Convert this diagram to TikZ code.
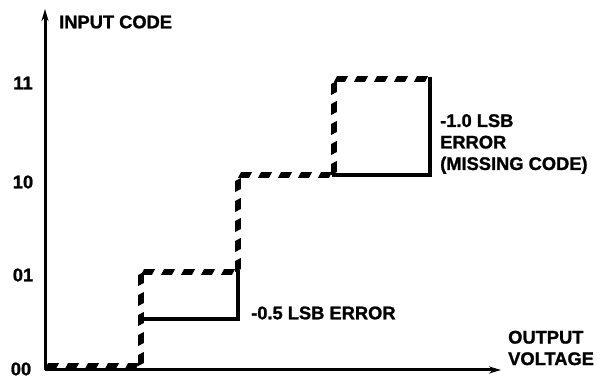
\documentclass[tikz,border=0pt]{standalone}
\usepackage{fontspec}
\setmainfont{Liberation Sans}
\newfontfamily\lbfont{Liberation Sans Bold}[FakeBold=1.3]
\usetikzlibrary{arrows.meta,decorations.markings}
\tikzset{
  lbl/.style={font=\lbfont\fontsize{18.3}{21.5}\selectfont, inner sep=0pt, text=black},
  axis/.style={line width=3pt, -{Stealth[length=12pt,width=7pt]}},
  solidstep/.style={line width=4.8pt, line join=miter, line cap=rect},
  hdash/.style={decoration={markings, mark=between positions 0 and 1 step 20pt with
      {\fill (0,-2.8) -- (11,-2.8) -- (14,2.8) -- (3,2.8) -- cycle;}}, decorate},
  vdash/.style={decoration={markings, mark=between positions 0 and 1 step 20pt with
      {\fill (0,2.8) -- (11,2.8) -- (14,-2.8) -- (3,-2.8) -- cycle;}}, decorate},
}
\begin{document}
\begin{tikzpicture}[x=1pt,y=1pt]
\useasboundingbox (0,0) rectangle (601,379);
% axes
\coordinate (O) at (45,9);
\coordinate (Ytip) at (45,370);
\coordinate (Xtip) at (501,9);
\draw[axis] (O) -- (Ytip);
\draw[axis] (O) -- (Xtip);
% staircase points
\coordinate (a0) at (45,13);
\coordinate (a1) at (141,13);
\coordinate (b0) at (141,107);
\coordinate (b1) at (238,107);
\coordinate (c0) at (238,204);
\coordinate (c1) at (334,204);
\coordinate (d0) at (334,300);
\coordinate (d1) at (430,300);
\coordinate (e0) at (141,60);
\coordinate (e1) at (238,60);
\coordinate (f1) at (430,204);
% dashed ideal staircase
\path[hdash] (a0) -- (a1);
\path[vdash] (a1) -- (b0);
\path[hdash] (b0) -- (b1);
\path[vdash] (b1) -- (c0);
\path[hdash] (c0) -- (c1);
\path[vdash] (c1) -- (d0);
\path[hdash] (d0) -- (d1);
% solid actual staircase
\draw[solidstep] (e0) -- (e1) -- (b1);
\draw[solidstep] (c1) -- (f1) -- (d1);
% labels
\node[lbl, anchor=west] (ylab) at (59,357) {INPUT CODE};
\node[lbl] (l11) at (23,296) {11};
\node[lbl] (l10) at (23,197) {10};
\node[lbl] (l01) at (23,104) {01};
\node[lbl] (l00) at (21,10) {00};
\node[lbl, anchor=west] (err1) at (251,66) {-0.5 LSB ERROR};
\node[lbl, anchor=west, align=left] (err2) at (440,235) {-1.0 LSB\\ERROR\\(MISSING CODE)};
\node[lbl, anchor=west, align=left] (xlab) at (508,31) {OUTPUT\\VOLTAGE};
\end{tikzpicture}
\end{document}
